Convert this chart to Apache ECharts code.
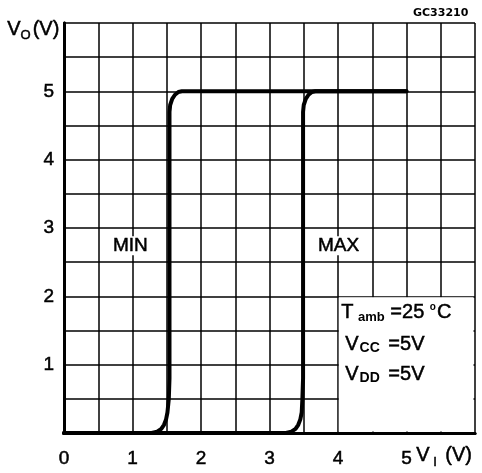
<!DOCTYPE html>
<html>
<head>
<meta charset="utf-8">
<script src="https://cdn.jsdelivr.net/npm/echarts@6/dist/echarts.min.js"></script>
<style>html,body{margin:0;padding:0;background:#fff}#c{width:482px;height:473px}</style>
</head>
<body>
<div id="c"></div>
<script>
// Data
const xTickLabels = ['0', '1', '2', '3', '4', '5'];
const yTickLabels = ['1', '2', '3', '4', '5'];
const minCurve = [[0,0],[1.28,0],[1.36,0.02],[1.42,0.06],[1.46,0.12],[1.49,0.2],[1.51,0.3],[1.53,0.5],[1.54,0.8],[1.54,4.7],[1.55,4.8],[1.58,4.89],[1.62,4.95],[1.67,4.99],[1.72,5],[5,5]];
const maxCurve = [[0,0],[3.24,0],[3.32,0.02],[3.38,0.06],[3.42,0.12],[3.45,0.2],[3.47,0.3],[3.48,0.5],[3.49,0.8],[3.49,4.7],[3.5,4.8],[3.53,4.89],[3.57,4.95],[3.62,4.99],[3.67,5],[5,5]];
const conditionBox = [[4, 0], [6, 2]];

const FONT = 'Liberation Sans';
const TB = {textBorderColor: '#000', textBorderWidth: 0.5};
const GS = {stroke: '#000', lineWidth: 0.5};
const chart = echarts.init(document.getElementById('c'), null, {renderer: 'canvas'});

const frameAxis = {
  min: 0, max: 6, interval: 0.5, type: 'value', z: 10,
  axisLine: {show: true, lineStyle: {color: '#000', width: 3}},
  axisTick: {show: false}, axisLabel: {show: false}, splitLine: {show: false}
};

chart.setOption({
  animation: false,
  grid: {left: 64, right: 7, top: 23, bottom: 40},
  xAxis: [
    {
      type: 'value', min: 0, max: 6, interval: 0.5, z: 0,
      axisLine: {show: false}, axisTick: {show: false},
      splitLine: {show: true, lineStyle: {color: '#000', width: 1.5}},
      axisLabel: Object.assign({
        margin: 16, color: '#000', fontFamily: FONT, fontSize: 19,
        formatter: v => (Number.isInteger(v) && xTickLabels.includes(String(v))) ? String(v) : ''
      }, TB)
    },
    Object.assign({}, frameAxis, {position: 'bottom'}),
    Object.assign({}, frameAxis, {position: 'top'})
  ],
  yAxis: [
    {
      type: 'value', min: 0, max: 6, interval: 0.5, z: 0,
      axisLine: {show: false}, axisTick: {show: false},
      splitLine: {show: true, lineStyle: {color: '#000', width: 1.5}},
      axisLabel: Object.assign({
        margin: 10, color: '#000', fontFamily: FONT, fontSize: 19,
        formatter: v => (Number.isInteger(v) && yTickLabels.includes(String(v))) ? String(v) : ''
      }, TB)
    },
    Object.assign({}, frameAxis, {position: 'left'}),
    Object.assign({}, frameAxis, {position: 'right'})
  ],
  series: [
    {
      name: 'MIN', type: 'line', data: minCurve, showSymbol: false, z: 5,
      lineStyle: {color: '#000', width: 4, join: 'round', cap: 'round'},
      markArea: {
        silent: true,
        itemStyle: {color: '#fff', borderWidth: 0},
        data: [[{coord: [conditionBox[0][0] + 0.012, conditionBox[0][1] + 0.022]}, {coord: [conditionBox[1][0] - 0.022, conditionBox[1][1] - 0.012]}]]
      }
    },
    {
      name: 'MAX', type: 'line', data: maxCurve, showSymbol: false, z: 5,
      lineStyle: {color: '#000', width: 4, join: 'round', cap: 'round'}
    }
  ],
  graphic: [
    {type: 'text', left: 413, top: 8, z: 20, style: {text: 'GC33210', fontFamily: 'DejaVu Sans', fontSize: 11, fontWeight: 'bold', fill: '#000'}},
    {type: 'text', left: 7, top: 19, z: 20, style: {
      text: '{a|V}{s|O}{a|(V)}', fill: '#000',
      rich: {
        a: Object.assign({fontFamily: FONT, fontSize: 20, verticalAlign: 'bottom', lineHeight: 22, padding: [0, 0, 3, 0]}, GS),
        s: Object.assign({fontFamily: FONT, fontSize: 13, verticalAlign: 'bottom', lineHeight: 22, padding: [0, 2, 0, 0]}, GS)
      }
    }},
    {type: 'text', left: 416, top: 445, z: 20, style: {
      text: '{a|V}{s| I}{a| (V)}', fill: '#000',
      rich: {
        a: Object.assign({fontFamily: FONT, fontSize: 20, verticalAlign: 'top'}, GS),
        s: Object.assign({fontFamily: FONT, fontSize: 13, verticalAlign: 'top', padding: [11, 3, 0, 0]}, GS)
      }
    }},
    {type: 'text', left: 111, top: 236, z: 20, style: Object.assign({
      text: 'MIN', fontFamily: FONT, fontSize: 19, fill: '#000', backgroundColor: '#fff', padding: [0, 2]
    }, GS)},
    {type: 'text', left: 316, top: 236, z: 20, style: Object.assign({
      text: 'MAX', fontFamily: FONT, fontSize: 19, fill: '#000', backgroundColor: '#fff', padding: [0, 2]
    }, GS)},
    {type: 'text', left: 341, top: 300, z: 20, style: {
      text: '{a|T}{s| amb}{a| =25 }{d|o}{a|C}', fill: '#000',
      rich: {
        a: Object.assign({fontFamily: FONT, fontSize: 20, lineHeight: 24, verticalAlign: 'middle'}, GS),
        s: {fontFamily: FONT, fontSize: 13, fontWeight: 'bold', lineHeight: 24, verticalAlign: 'middle', padding: [11, 0, 0, 1]},
        d: {fontFamily: FONT, fontSize: 10, fontWeight: 'bold', lineHeight: 24, verticalAlign: 'middle', padding: [0, 1, 9, 0]}
      }
    }},
    {type: 'text', left: 345, top: 334, z: 20, style: {
      text: '{a|V}{s|CC}{a| =5V}', fill: '#000',
      rich: {
        a: Object.assign({fontFamily: FONT, fontSize: 20, lineHeight: 24, verticalAlign: 'middle'}, GS),
        s: {fontFamily: FONT, fontSize: 14, fontWeight: 'bold', lineHeight: 24, verticalAlign: 'middle', padding: [7, 3, 0, 1]}
      }
    }},
    {type: 'text', left: 345, top: 364, z: 20, style: {
      text: '{a|V}{s|DD}{a| =5V}', fill: '#000',
      rich: {
        a: Object.assign({fontFamily: FONT, fontSize: 20, lineHeight: 24, verticalAlign: 'middle'}, GS),
        s: {fontFamily: FONT, fontSize: 14, fontWeight: 'bold', lineHeight: 24, verticalAlign: 'middle', padding: [7, 3, 0, 1]}
      }
    }}
  ]
});
</script>
</body>
</html>
